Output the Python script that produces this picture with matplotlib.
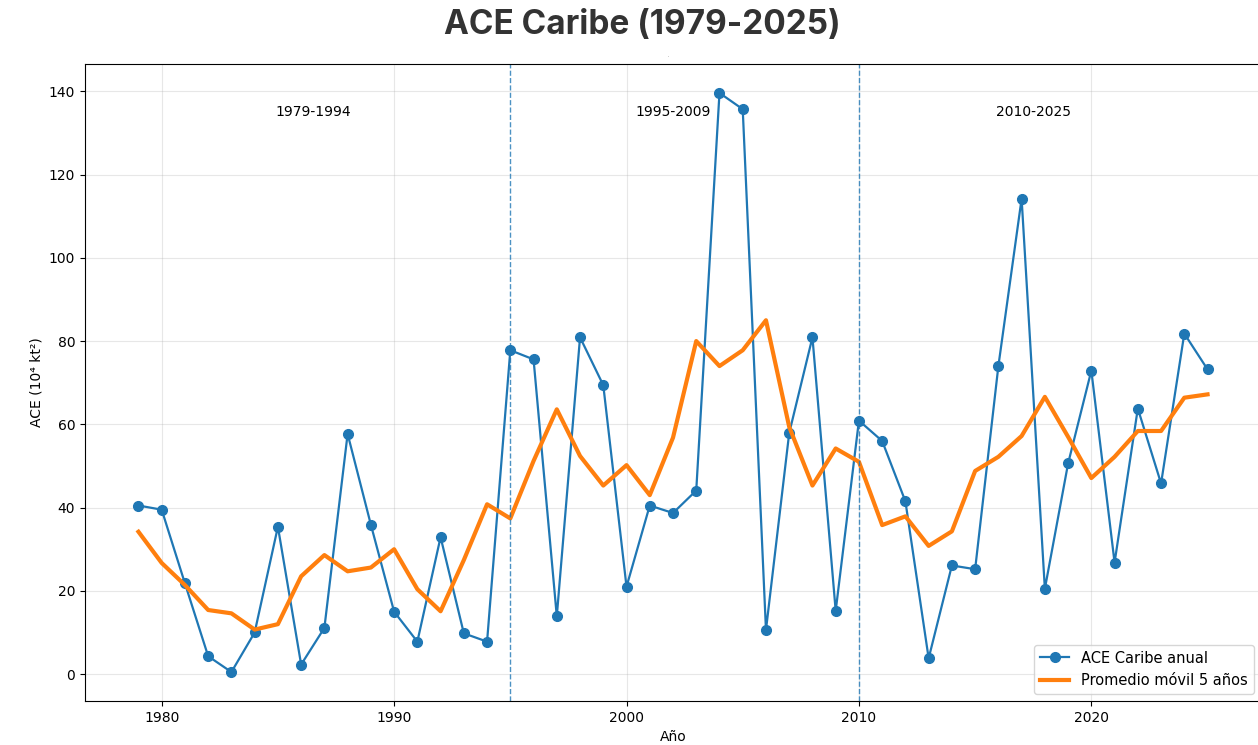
import matplotlib.pyplot as plt

years = list(range(1979, 2026))

ace_anual = [40.5, 39.5, 21.8, 4.3, 0.5, 10.0, 35.4, 2.3, 11.1, 57.7,
             35.9, 15.0, 7.8, 32.9, 9.8, 7.8, 77.8, 75.6, 13.9, 80.9,
             69.4, 21.0, 40.5, 38.7, 44.1, 139.6, 135.7, 10.6, 57.9, 80.9,
             15.2, 60.9, 56.0, 41.5, 3.8, 26.1, 25.2, 74.0, 114.2, 20.5,
             50.6, 72.9, 26.8, 63.8, 45.8, 81.8, 73.2]

promedio_5 = [34.2, 26.7, 21.4, 15.4, 14.6, 10.7, 12.0, 23.5, 28.6, 24.7,
              25.6, 30.0, 20.4, 15.1, 27.4, 40.8, 37.4, 51.2, 63.6, 52.4,
              45.3, 50.2, 43.0, 56.8, 80.0, 74.0, 77.8, 85.0, 59.4, 45.3,
              54.2, 51.0, 35.8, 37.9, 30.8, 34.3, 48.8, 52.2, 57.2, 66.6,
              57.0, 47.1, 52.2, 58.4, 58.4, 66.4, 67.2]

cortes = [1995, 2010]
periodos = [(1979, 1994), (1995, 2009), (2010, 2025)]


def main():
    fig = plt.figure(figsize=(12.58, 7.45), dpi=100)
    ax = fig.add_axes([85 / 1258, 44 / 745, 1176 / 1258, 637 / 745])

    ax.plot(years, ace_anual, marker='o', markersize=7, linewidth=1.6,
            color='#1f77b4', label='ACE Caribe anual')
    ax.plot(years, promedio_5, linewidth=3, color='#ff7f0e',
            label='Promedio móvil 5 años')

    for c in cortes:
        ax.axvline(c, linestyle='--', linewidth=1, color='#1f77b4', alpha=0.8)

    ymax = max(ace_anual)
    for a, b in periodos:
        ax.text((a + b) / 2, ymax * 0.967, f'{a}-{b}', ha='center', va='center',
                fontsize=10)

    ax.grid(alpha=0.3)
    ax.set_xlabel('Año')
    ax.set_ylabel('ACE (10⁴ kt²)')
    ax.legend(loc='lower right', fontsize=10.5)

    fig.text(642 / 1258, 1 - 25 / 745, 'ACE Caribe (1979-2025)', ha='center',
             va='center', fontsize=24, fontweight='bold', family='Inter',
             color='#333333')
    fig.text(668 / 1258, 1 - 57 / 745, '.', ha='center', va='baseline', fontsize=3)

    fig.savefig('out.png', dpi=100)


main()
